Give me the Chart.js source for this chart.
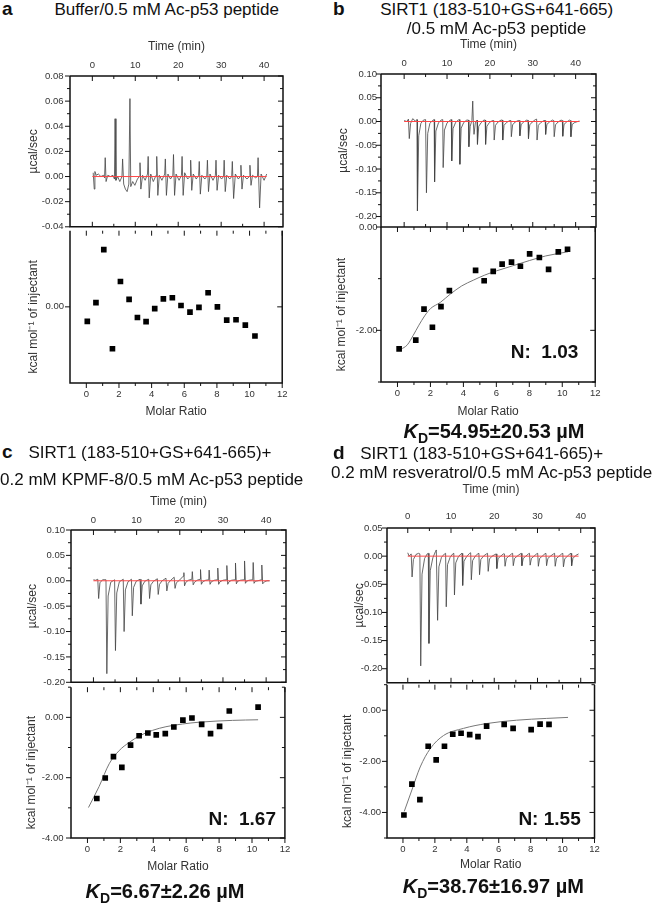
<!DOCTYPE html>
<html>
<head>
<meta charset="utf-8">
<script src="https://cdn.jsdelivr.net/npm/chart.js@4.4.1/dist/chart.umd.min.js"></script>
<style>
  body { margin: 0; width: 654px; height: 905px; position: relative; background: #fff; overflow: hidden;
         font-family: "Liberation Sans", Arial, sans-serif; color: #111; }
  canvas { position: absolute; }
  .t { position: absolute; white-space: nowrap; line-height: 1; }
  .t sub { font-size: 0.7em; vertical-align: baseline; position: relative; top: 0.3em; line-height: 0; }
</style>
</head>
<body>
<script>
// axis ticks shared by all panels
const timeMajor = [0, 10, 20, 30, 40];
const timeMinor = [5, 15, 25, 35];
const ratioMajor = [0, 2, 4, 6, 8, 10, 12];
const ratioMinor = [1, 3, 5, 7, 9, 11];

// raw ITC traces: [time (min), µcal/sec]
const rawA = [[0.2,0.003],[0.45,-0.010],[0.6,0.004],[0.9,0.001],[1.4,0.002],[2.0,0.000],[2.6,0.001],[2.85,-0.001],[3.0,0.015],[3.2,-0.004],[3.6,0.001],[4.2,0.000],[4.8,0.001],[5.15,-0.002],[5.3,0.046],[5.5,-0.003],[5.9,0.000],[6.4,-0.004],[6.9,0.000],[7.05,0.014],[7.3,-0.006],[7.7,-0.010],[8.1,-0.012],[8.5,-0.006],[8.76,0.062],[8.95,-0.008],[9.4,-0.004],[9.9,-0.007],[10.5,-0.002],[10.95,0.000],[11.1,0.011],[11.3,-0.010],[11.7,0.001],[12.3,-0.003],[12.85,0.002],[13.0,0.016],[13.25,-0.017],[13.6,0.002],[14.2,-0.004],[14.85,0.001],[15.0,0.016],[15.25,-0.015],[15.6,0.001],[16.2,-0.003],[16.85,0.002],[17.0,0.014],[17.25,-0.015],[17.6,0.002],[18.2,-0.002],[18.75,0.001],[18.9,0.0175],[19.15,-0.015],[19.5,0.002],[20.2,-0.003],[20.75,0.001],[20.9,0.016],[21.15,-0.015],[21.5,0.003],[22.2,-0.002],[22.75,0.000],[22.9,0.013],[23.15,-0.011],[23.5,0.002],[24.2,-0.002],[24.75,0.001],[24.9,0.012],[25.15,-0.014],[25.5,0.001],[26.2,-0.002],[26.65,0.000],[26.8,0.013],[27.05,-0.012],[27.4,0.002],[28.1,-0.003],[28.65,0.001],[28.8,0.013],[29.05,-0.011],[29.4,0.001],[30.1,-0.002],[30.55,0.000],[30.7,0.013],[30.95,-0.012],[31.3,0.001],[32.0,-0.002],[32.45,0.000],[32.6,0.012],[32.9,-0.0175],[33.3,0.002],[34.0,-0.002],[34.45,0.000],[34.6,0.009],[34.85,-0.010],[35.2,0.001],[36.0,-0.002],[36.55,0.000],[36.7,0.009],[36.95,-0.007],[37.3,0.001],[38.0,-0.001],[38.45,0.000],[38.6,0.015],[38.95,-0.025],[39.3,0.002],[40.0,-0.003],[40.6,0.002]];
const rawB = [[0.0,0.002],[0.6,0.000],[1.0,0.005],[1.2,-0.036],[1.5,-0.004],[2.0,0.006],[2.6,0.001],[3.0,0.004],[3.1,-0.188],[3.4,-0.030],[3.9,-0.004],[4.5,0.003],[5.0,0.004],[5.2,-0.150],[5.5,-0.025],[6.0,-0.004],[6.6,0.002],[7.0,0.004],[7.1,-0.127],[7.4,-0.020],[8.0,-0.003],[8.6,0.003],[9.0,0.004],[9.1,-0.097],[9.4,-0.018],[10.0,-0.003],[10.6,0.002],[11.0,0.004],[11.1,-0.083],[11.4,-0.015],[12.0,-0.002],[12.6,0.003],[12.9,0.004],[13.0,-0.090],[13.3,-0.014],[13.9,-0.002],[14.6,0.003],[15.0,0.003],[15.1,-0.053],[15.4,-0.010],[15.8,0.002],[16.0,0.043],[16.15,-0.005],[16.3,-0.027],[16.6,-0.003],[17.0,0.003],[17.1,-0.048],[17.4,-0.010],[18.0,-0.002],[18.6,0.003],[18.9,0.003],[19.0,-0.048],[19.3,-0.010],[19.9,-0.002],[20.6,0.002],[20.9,0.002],[21.0,-0.039],[21.3,-0.008],[21.9,-0.001],[22.6,0.003],[22.9,0.003],[23.0,-0.039],[23.3,-0.008],[23.9,-0.002],[24.6,0.002],[24.9,0.002],[25.0,-0.032],[25.3,-0.007],[25.9,-0.001],[26.6,0.002],[26.9,0.002],[27.0,-0.030],[27.3,-0.006],[27.9,-0.001],[28.6,0.003],[28.9,0.002],[29.0,-0.036],[29.3,-0.007],[29.9,-0.001],[30.6,0.004],[30.9,0.005],[31.0,-0.039],[31.3,-0.008],[31.9,-0.002],[32.6,0.002],[32.9,0.002],[33.0,-0.027],[33.3,-0.006],[33.9,-0.001],[34.6,0.003],[34.9,0.002],[35.0,-0.032],[35.3,-0.007],[35.9,-0.001],[36.6,0.003],[36.9,0.002],[37.0,-0.031],[37.3,-0.006],[37.9,-0.001],[38.6,0.003],[38.8,0.002],[38.9,-0.032],[39.2,-0.006],[39.8,-0.002],[40.5,0.000],[40.9,0.001]];
const rawC = [[0.0,0.002],[0.5,0.001],[1.0,0.003],[1.2,-0.035],[1.5,-0.004],[2.1,0.002],[2.9,0.002],[3.1,-0.183],[3.4,-0.030],[4.0,-0.003],[4.9,0.002],[5.1,-0.1375],[5.4,-0.024],[6.0,-0.002],[6.9,0.003],[7.1,-0.100],[7.4,-0.018],[8.0,-0.002],[8.8,0.003],[9.0,-0.069],[9.3,-0.013],[9.9,-0.001],[10.8,0.003],[11.0,-0.046],[11.3,-0.010],[11.9,-0.001],[12.8,0.003],[13.0,-0.035],[13.3,-0.008],[13.9,-0.001],[14.8,0.004],[15.0,-0.027],[15.3,-0.007],[15.9,0.000],[16.8,0.005],[17.0,-0.020],[17.3,-0.005],[17.9,0.001],[18.7,0.007],[18.9,-0.015],[19.2,-0.004],[19.9,0.001],[20.8,0.009],[20.95,0.016],[21.1,-0.010],[21.4,-0.003],[22.0,0.001],[22.8,0.003],[22.9,0.018],[23.1,-0.008],[23.4,-0.003],[24.0,0.001],[24.7,0.003],[24.8,0.022],[25.0,-0.007],[25.3,-0.002],[26.0,0.001],[26.7,0.002],[26.8,0.021],[27.0,-0.007],[27.3,-0.002],[28.0,0.001],[28.7,0.002],[28.8,0.025],[29.0,-0.007],[29.3,-0.002],[30.0,0.001],[30.8,0.002],[30.9,0.030],[31.1,-0.007],[31.4,-0.002],[32.0,0.001],[32.8,0.002],[32.9,0.035],[33.1,-0.006],[33.4,-0.001],[34.0,0.001],[34.9,0.002],[35.0,0.039],[35.2,-0.005],[35.5,-0.001],[36.0,0.001],[36.9,0.002],[37.0,0.036],[37.2,-0.005],[37.5,-0.001],[38.1,0.000],[38.9,0.002],[39.0,0.031],[39.2,-0.006],[39.6,-0.002],[40.2,0.000],[40.8,0.000]];
const rawD = [[0.0,0.006],[0.3,0.000],[0.8,0.004],[1.0,-0.037],[1.3,-0.006],[1.9,0.003],[2.5,0.005],[2.8,0.004],[3.0,-0.195],[3.3,-0.032],[3.9,-0.004],[4.5,0.004],[4.75,0.005],[4.9,-0.155],[5.2,-0.026],[5.8,-0.003],[6.4,0.008],[6.6,0.011],[6.9,-0.114],[7.2,-0.019],[7.8,-0.002],[8.5,0.004],[8.75,0.005],[8.9,-0.090],[9.2,-0.015],[9.8,-0.002],[10.4,0.004],[10.65,0.005],[10.8,-0.069],[11.1,-0.012],[11.7,-0.001],[12.3,0.004],[12.55,0.005],[12.7,-0.052],[13.0,-0.009],[13.6,-0.001],[14.3,0.005],[14.55,0.006],[14.7,-0.042],[15.0,-0.008],[15.6,0.000],[16.2,0.004],[16.45,0.005],[16.6,-0.033],[16.9,-0.006],[17.5,0.000],[18.2,0.004],[18.45,0.005],[18.6,-0.027],[18.9,-0.005],[19.5,0.000],[20.2,0.003],[20.45,0.004],[20.6,-0.022],[20.9,-0.004],[21.5,0.000],[22.1,0.004],[22.35,0.004],[22.5,-0.018],[22.8,-0.004],[23.4,0.000],[24.0,0.004],[24.25,0.005],[24.4,-0.017],[24.7,-0.004],[25.3,0.000],[26.0,0.004],[26.25,0.005],[26.4,-0.017],[26.7,-0.004],[27.3,0.000],[27.9,0.004],[28.15,0.005],[28.3,-0.016],[28.6,-0.004],[29.2,0.000],[29.8,0.004],[30.05,0.005],[30.2,-0.018],[30.5,-0.004],[31.1,0.000],[31.7,0.004],[31.95,0.005],[32.1,-0.017],[32.4,-0.004],[33.0,0.000],[33.7,0.004],[33.95,0.005],[34.1,-0.018],[34.4,-0.004],[35.0,0.000],[35.6,0.004],[35.85,0.005],[36.0,-0.019],[36.3,-0.005],[36.9,0.000],[37.5,0.004],[37.75,0.005],[37.9,-0.017],[38.2,-0.004],[38.8,0.001],[39.5,0.004]];

// red baselines: start and end time
const baseA = [0, 40.6];
const baseB = [0, 40.9];
const baseC = [0, 40.8];
const baseD = [0, 39.5];

// integrated heats (kcal/mol of injectant) vs molar ratio
const ratioA = [0.06,0.59,1.07,1.60,2.09,2.62,3.13,3.66,4.19,4.72,5.27,5.80,6.35,6.90,7.46,8.03,8.60,9.17,9.74,10.33];
const heatA = [-0.0076,0.0022,0.0301,-0.0220,0.0133,0.0039,-0.0056,-0.0078,-0.0009,0.0042,0.0048,0.0007,-0.0028,-0.0003,0.0074,0.0000,-0.0070,-0.0068,-0.0096,-0.0153];

const ratioB = [0.10,1.11,1.61,2.12,2.64,3.15,4.74,5.26,5.81,6.35,6.92,7.46,8.02,8.61,9.17,9.76,10.32];
const heatB = [-2.36,-2.19,-1.59,-1.94,-1.54,-1.23,-0.84,-1.04,-0.86,-0.72,-0.68,-0.76,-0.52,-0.59,-0.82,-0.48,-0.43];
const fitRatioB = [0.20,0.60,0.95,1.30,1.65,2.00,2.60,3.20,3.90,4.60,5.30,6.00,7.00,8.00,9.00,10.35];
const fitHeatB = [-2.37,-2.28,-2.10,-1.90,-1.72,-1.58,-1.46,-1.30,-1.14,-1.03,-0.93,-0.85,-0.75,-0.65,-0.56,-0.48];

const ratioC = [0.57,1.08,1.58,2.09,2.62,3.14,3.67,4.18,4.73,5.25,5.80,6.35,6.94,7.48,8.03,8.62,10.37];
const heatC = [-2.69,-2.01,-1.30,-1.66,-0.92,-0.61,-0.52,-0.58,-0.54,-0.32,-0.09,-0.02,-0.23,-0.54,-0.30,0.21,0.34];
const fitRatioC = [0.06,0.71,1.32,1.93,2.54,3.14,3.96,4.77,5.78,6.80,8.82,10.37];
const fitHeatC = [-2.99,-2.29,-1.54,-1.10,-0.83,-0.62,-0.43,-0.31,-0.22,-0.16,-0.10,-0.08];

const ratioD = [0.06,0.56,1.06,1.58,2.08,2.60,3.12,3.64,4.18,4.70,5.24,6.34,6.90,8.03,8.59,9.15];
const heatD = [-4.10,-2.89,-3.50,-1.41,-1.94,-1.41,-0.94,-0.90,-0.955,-1.03,-0.62,-0.555,-0.71,-0.76,-0.54,-0.555];
const fitRatioD = [0.08,0.56,1.08,1.70,2.54,3.79,5.24,7.11,8.98,10.34];
const fitHeatD = [-3.96,-3.12,-2.22,-1.51,-0.99,-0.71,-0.52,-0.39,-0.32,-0.28];

Chart.defaults.font.family = '"Liberation Sans", Arial, sans-serif';
Chart.defaults.color = '#333';

// Origin-style box with ticks on all four sides
const originFrame = {
  id: 'originFrame',
  afterDatasetsDraw(chart, args, o) {
    const { ctx, chartArea: a, scales: { x, y } } = chart;
    ctx.save();
    ctx.strokeStyle = '#111';
    ctx.lineWidth = 1;
    ctx.beginPath();
    const xt = (vals, len) => vals.forEach(v => {
      const px = x.getPixelForValue(v);
      ctx.moveTo(px, a.top); ctx.lineTo(px, a.top + len);
      ctx.moveTo(px, a.bottom); ctx.lineTo(px, o.raw ? a.bottom - len : a.bottom + len);
    });
    const yt = (vals, len) => vals.forEach(v => {
      const py = y.getPixelForValue(v);
      ctx.moveTo(a.left - len, py); ctx.lineTo(a.left, py);
      ctx.moveTo(a.right, py); ctx.lineTo(a.right - len, py);
    });
    xt(o.xMajor, 5); xt(o.xMinor, 3);
    yt(o.yMajor, 5); yt(o.yMinor, 3);
    ctx.stroke();
    // the edge shared with the upper plot is drawn only once, by the upper plot
    ctx.lineWidth = 1.5;
    ctx.beginPath();
    ctx.moveTo(a.left, a.top);
    if (o.raw) ctx.lineTo(a.right, a.top); else ctx.moveTo(a.right, a.top);
    ctx.lineTo(a.right, a.bottom);
    ctx.lineTo(a.left, a.bottom);
    ctx.lineTo(a.left, a.top);
    ctx.stroke();
    ctx.restore();
  }
};

function plot(p) {
  const [L, T, R, B] = p.box;
  const raw = p.raw;
  const axisH = raw ? 50 : 45, pad = 10, yW = 60;
  const cl = L - yW, ct = raw ? T - axisH : T - pad;
  const w = R - L + yW + pad, h = B - T + axisH + pad;
  const cv = document.createElement('canvas');
  cv.width = w; cv.height = h;
  cv.style.left = cl + 'px'; cv.style.top = ct + 'px';
  cv.style.width = w + 'px'; cv.style.height = h + 'px';
  document.body.appendChild(cv);

  const titleFont = { size: 12 };
  const half = 7.2;
  const xTitlePad = raw ? { top: p.xTitleY - ct - half } : { bottom: (ct + h) - p.xTitleY - half };

  new Chart(cv, {
    type: 'scatter',
    data: { datasets: p.datasets },
    options: {
      responsive: false,
      animation: false,
      devicePixelRatio: 1,
      layout: { padding: { left: 0, right: pad, top: raw ? 0 : pad, bottom: raw ? pad : 0 } },
      plugins: {
        legend: { display: false },
        tooltip: { enabled: false },
        originFrame: { raw, xMajor: p.xMajor, xMinor: p.xMinor, yMajor: p.yMajor, yMinor: p.yMinor }
      },
      scales: {
        x: {
          type: 'linear', position: raw ? 'top' : 'bottom',
          min: p.xRange[0], max: p.xRange[1],
          afterBuildTicks: s => { s.ticks = p.xMajor.map(v => ({ value: v })); },
          afterFit: s => { s.height = axisH; },
          grid: { display: false, drawTicks: false },
          border: { display: false },
          ticks: { padding: p.xPad, font: { size: 9.5 }, color: '#333', autoSkip: false, maxRotation: 0,
                   callback: v => String(v) },
          title: { display: true, text: raw ? 'Time (min)' : 'Molar Ratio', font: titleFont, color: '#333',
                   padding: xTitlePad }
        },
        y: {
          type: 'linear', position: 'left',
          min: p.yRange[0], max: p.yRange[1],
          afterBuildTicks: s => { s.ticks = p.yMajor.map(v => ({ value: v })); },
          afterFit: s => { s.width = yW; },
          grid: { display: false, drawTicks: false },
          border: { display: false },
          ticks: { padding: p.yPad, font: { size: 9.5 }, color: '#333', autoSkip: false,
                   callback: v => v.toFixed(2) },
          title: { display: true, text: raw ? 'µcal/sec' : 'kcal mol⁻¹ of injectant      ', font: titleFont,
                   color: '#333', padding: { top: p.yTitleX - cl - half } }
        }
      }
    },
    plugins: [originFrame]
  });
}

function rawSets(trace, base) {
  return [
    { data: [{ x: base[0], y: 0 }, { x: base[1], y: 0 }], showLine: true, borderColor: '#ff4646',
      borderWidth: 1, pointRadius: 0 },
    { data: trace.map(q => ({ x: q[0], y: q[1] })), showLine: true, borderColor: '#444',
      borderWidth: 0.8, pointRadius: 0 }
  ];
}

function heatSets(ratio, heat, fitR, fitH) {
  const sets = [
    { data: ratio.map((r, i) => ({ x: r, y: heat[i] })), pointStyle: 'rect', pointRadius: 4,
      backgroundColor: '#000', borderColor: '#000', borderWidth: 0 }
  ];
  if (fitR) {
    sets.push({ data: fitR.map((r, i) => ({ x: r, y: fitH[i] })), showLine: true, borderColor: '#777',
                borderWidth: 1, pointRadius: 0, cubicInterpolationMode: 'monotone' });
  }
  return sets;
}

const rawYa = [-0.04, -0.02, 0, 0.02, 0.04, 0.06, 0.08];
const rawYaMinor = [-0.03, -0.01, 0.01, 0.03, 0.05, 0.07];
const rawYbc = [-0.20, -0.15, -0.10, -0.05, 0, 0.05, 0.10];
const rawYd = [-0.20, -0.15, -0.10, -0.05, 0, 0.05];
const rawYMinor = [-0.175, -0.125, -0.075, -0.025, 0.025, 0.075];

// panel a
plot({ raw: true, box: [70, 76, 283, 229], xRange: [-5.2, 44.4], yRange: [-0.04, 0.08],
  xMajor: timeMajor, xMinor: timeMinor, yMajor: rawYa, yMinor: rawYaMinor,
  xPad: 4.5, yPad: 6.5, xTitleY: 47, yTitleX: 34, datasets: rawSets(rawA, baseA) });
plot({ raw: false, box: [70, 229, 283, 383], xRange: [-1, 12], yRange: [-0.04, 0.04],
  xMajor: ratioMajor, xMinor: ratioMinor, yMajor: [0], yMinor: [],
  xPad: 5.5, yPad: 6, xTitleY: 412, yTitleX: 33.5, datasets: heatSets(ratioA, heatA) });

// panel b
plot({ raw: true, box: [381, 74, 596, 227], xRange: [-5.4, 44.75], yRange: [-0.222, 0.10],
  xMajor: timeMajor, xMinor: timeMinor, yMajor: rawYbc, yMinor: rawYMinor,
  xPad: 4.5, yPad: 4, xTitleY: 45, yTitleX: 344, datasets: rawSets(rawB, baseB) });
plot({ raw: false, box: [381, 227, 596, 382], xRange: [-1, 12], yRange: [-3, 0],
  xMajor: ratioMajor, xMinor: ratioMinor, yMajor: [-2, 0], yMinor: [-3, -1],
  xPad: 5.5, yPad: 3.5, xTitleY: 411.5, yTitleX: 342, datasets: heatSets(ratioB, heatB, fitRatioB, fitHeatB) });

// panel c
plot({ raw: true, box: [71, 530, 286, 684], xRange: [-5.2, 44.6], yRange: [-0.20, 0.10],
  xMajor: timeMajor, xMinor: timeMinor, yMajor: rawYbc, yMinor: rawYMinor,
  xPad: 3.6, yPad: 6, xTitleY: 501.5, yTitleX: 32.5, datasets: rawSets(rawC, baseC) });
plot({ raw: false, box: [71, 684, 286, 838], xRange: [-1, 12], yRange: [-4, 1],
  xMajor: ratioMajor, xMinor: ratioMinor, yMajor: [-4, -2, 0], yMinor: [-3, -1, 1],
  xPad: 5.8, yPad: 7.5, xTitleY: 866.5, yTitleX: 32, datasets: heatSets(ratioC, heatC, fitRatioC, fitHeatC) });

// panel d
plot({ raw: true, box: [387, 528, 595, 683], xRange: [-4.8, 43.3], yRange: [-0.225, 0.05],
  xMajor: timeMajor, xMinor: timeMinor, yMajor: rawYd, yMinor: rawYMinor.slice(0, 5),
  xPad: 5.6, yPad: 4.5, xTitleY: 490, yTitleX: 359.5, datasets: rawSets(rawD, baseD) });
plot({ raw: false, box: [387, 683, 595, 838], xRange: [-1, 12], yRange: [-5, 1],
  xMajor: ratioMajor, xMinor: ratioMinor, yMajor: [-4, -2, 0], yMinor: [-5, -3, -1, 1],
  xPad: 5.2, yPad: 6, xTitleY: 865, yTitleX: 347.5, datasets: heatSets(ratioD, heatD, fitRatioD, fitHeatD) });

// text labels
function putText(html, x, base, size, align, bold) {
  const d = document.createElement('div');
  d.className = 't';
  d.innerHTML = html;
  d.style.fontSize = size + 'px';
  d.style.fontWeight = bold ? 'bold' : 'normal';
  d.style.top = (base - 0.8465 * size) + 'px';
  if (align === 'center') { d.style.left = x + 'px'; d.style.transform = 'translateX(-50%)'; }
  else if (align === 'right') { d.style.right = (654 - x) + 'px'; }
  else { d.style.left = x + 'px'; }
  document.body.appendChild(d);
}

putText('a', 2, 15, 19, 'left', true);
putText('Buffer/0.5 mM Ac-p53 peptide', 166.7, 15, 17, 'center');
putText('b', 333, 15, 19, 'left', true);
putText('SIRT1 (183-510+GS+641-665)', 496.7, 15, 17, 'center');
putText('/0.5 mM Ac-p53 peptide', 496.5, 34.3, 17, 'center');
putText('N:&nbsp; 1.03', 578.3, 357.7, 19, 'right', true);
putText('<i>K</i><sub>D</sub>=54.95±20.53 µM', 494, 438.3, 20, 'center', true);

putText('c', 2, 458.3, 19, 'left', true);
putText('SIRT1 (183-510+GS+641-665)+', 150, 458.3, 17, 'center');
putText('0.2 mM KPMF-8/0.5 mM Ac-p53 peptide', 151.7, 485, 17, 'center');
putText('N:&nbsp; 1.67', 276, 825, 19, 'right', true);
putText('<i>K</i><sub>D</sub>=6.67±2.26 µM', 165, 898.3, 20, 'center', true);

putText('d', 333, 459, 19, 'left', true);
putText('SIRT1 (183-510+GS+641-665)+', 481.7, 459, 17, 'center');
putText('0.2 mM resveratrol/0.5 mM Ac-p53 peptide', 331, 478.3, 17, 'left');
putText('N: 1.55', 580.7, 825, 19, 'right', true);
putText('<i>K</i><sub>D</sub>=38.76±16.97 µM', 493.3, 893.3, 20, 'center', true);
</script>
</body>
</html>
